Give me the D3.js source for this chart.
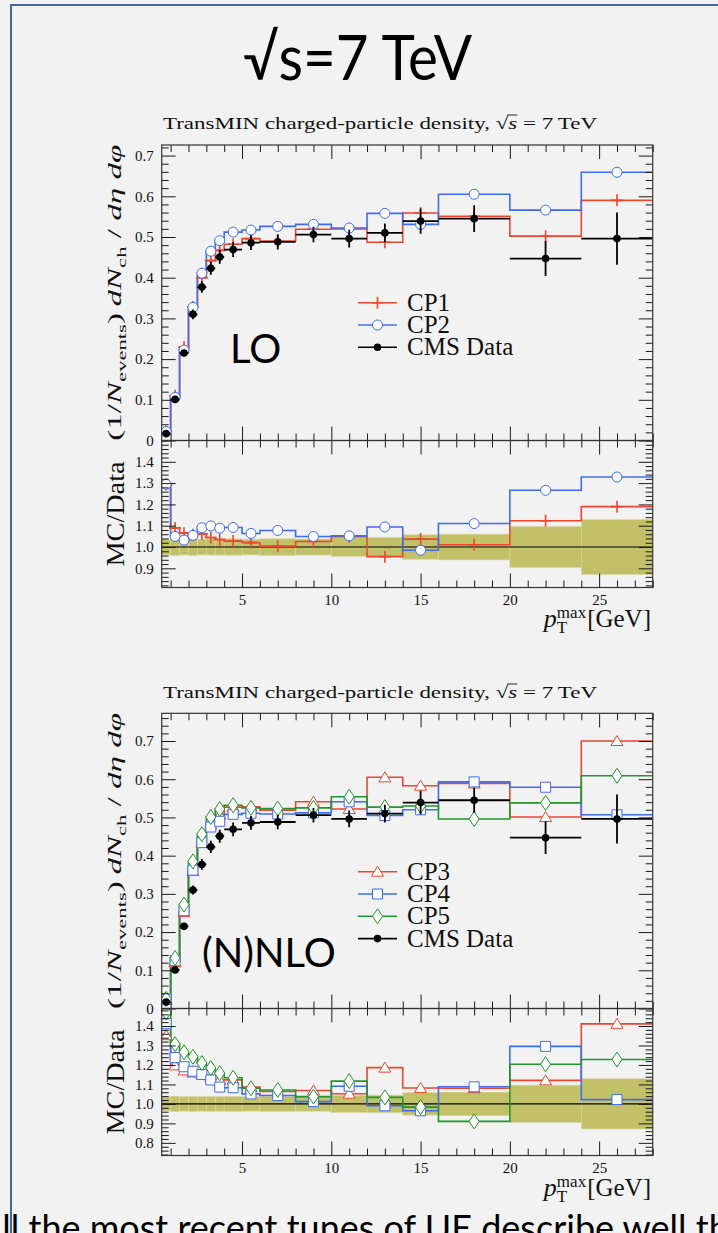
<!DOCTYPE html>
<html>
<head>
<meta charset="utf-8">
<script src="https://cdn.jsdelivr.net/npm/d3@7"></script>
<style>
body { margin:0; background:#f2f2f2; }
svg { display:block; }
.ax path.domain { display:none; }
.ax line { stroke:#1a1a1a; stroke-width:1; }
.ax text { font-family:"Liberation Serif", serif; font-size:15px; fill:#111; }
.ser { font-family:"Liberation Serif", serif; fill:#111; }
.cal { font-family:Lato, "Open Sans", sans-serif; fill:#000; }
</style>
</head>
<body>
<svg id="slide" width="718" height="1233"></svg>
<script>
// bins of leading-track pT (GeV)
var binEdges = [0.5,1,1.5,2,2.5,3,3.5,4,5,6,8,10,12,14,16,20,24,28];

// CMS data, TransMIN density
var cmsData = [0.017,0.101,0.215,0.310,0.377,0.423,0.451,0.469,0.486,0.488,0.506,0.496,0.510,0.539,0.545,0.447,0.496];
var cmsErr  = [0.0006,0.004,0.008,0.012,0.014,0.016,0.017,0.018,0.018,0.019,0.019,0.022,0.023,0.031,0.033,0.043,0.064];

// LO tunes
var cp1 = [0.022,0.110,0.229,0.328,0.400,0.442,0.467,0.482,0.496,0.490,0.519,0.520,0.487,0.559,0.551,0.502,0.590];
var cp2 = [0.022,0.106,0.222,0.327,0.411,0.465,0.491,0.512,0.517,0.526,0.531,0.522,0.558,0.531,0.605,0.566,0.659];
// (N)NLO tunes
var cp3 = [0.023,0.121,0.252,0.360,0.434,0.482,0.507,0.527,0.528,0.519,0.541,0.522,0.605,0.583,0.589,0.501,0.700];
var cp4 = [0.024,0.125,0.256,0.362,0.434,0.475,0.490,0.508,0.511,0.509,0.512,0.541,0.505,0.520,0.593,0.579,0.507];
var cp5 = [0.025,0.132,0.272,0.385,0.456,0.501,0.522,0.532,0.525,0.523,0.525,0.554,0.527,0.530,0.496,0.538,0.609];

var xMajorTicks = [5,10,15,20,25];
var mainYTicks = [0,0.1,0.2,0.3,0.4,0.5,0.6,0.7];
var ratioTicksLO = [0.9,1.0,1.1,1.2,1.3,1.4];
var ratioTicksNLO = [0.8,0.9,1.0,1.1,1.2,1.3,1.4];

var RED = "#ea4630", BLUE = "#3d6cf0", GREEN = "#22962a", BAND = "#c3c168";

var svg = d3.select("#slide");
svg.append("rect").attr("width",718).attr("height",1233).attr("fill","#f2f2f2");
svg.append("path").attr("d","M11,1233V5H718").attr("fill","none").attr("stroke","#4262a0").attr("stroke-width",2);

// slide title
svg.append("text").attr("class","cal").attr("x",243).attr("y",80)
   .attr("font-size",62).attr("textLength",229).attr("lengthAdjust","spacingAndGlyphs")
   .text("\u221As=7 TeV");

// slide text, cut by the bottom edge
svg.append("text").attr("class","cal").attr("x",-22).attr("y",1241)
   .attr("font-size",36).text("All the most recent tunes of UE describe well the data");

var X0 = 161.7, X1 = 652.7;
var x = d3.scaleLinear().domain([binEdges[0], binEdges[binEdges.length-1]]).range([X0, X1]);
var centres = d3.pairs(binEdges).map(function(p){ return (p[0]+p[1])/2; });

function stepPts(vals) {
  var pts = vals.map(function(v,i){ return [binEdges[i], v]; });
  pts.push([binEdges[binEdges.length-1], vals[vals.length-1]]);
  return pts;
}

function marker(sel, type, color) {
  if (type === "cross") {
    sel.append("path").attr("d","M-6,0H6M0,-6V6").attr("fill","none").attr("stroke",color).attr("stroke-width",1.6);
  } else if (type === "circle") {
    sel.append("circle").attr("r",5).attr("fill","#fff").attr("stroke",color).attr("stroke-width",1);
  } else if (type === "triangle") {
    sel.append("path").attr("d","M0,-5.5L6,4.5L-6,4.5Z").attr("fill","#fff").attr("stroke",color).attr("stroke-width",1);
  } else if (type === "square") {
    sel.append("path").attr("d","M-5,-5H5V5H-5Z").attr("fill","#fff").attr("stroke",color).attr("stroke-width",1);
  } else if (type === "diamond") {
    sel.append("path").attr("d","M0,-7.5L5,0L0,7.5L-5,0Z").attr("fill","#fff").attr("stroke",color).attr("stroke-width",1);
  } else if (type === "data") {
    sel.append("circle").attr("r",3.8).attr("fill","#000");
  }
}

function minorTicks(lo, hi, step, majors) {
  return d3.range(lo, hi + 1e-9, step).filter(function(v){
    return !majors.some(function(m){ return Math.abs(m - v) < 1e-6; });
  });
}

function frameAxes(g, yScale, top, bot, yMajors, yFmt, xLabels) {
  var yMin = minorTicks(Math.ceil(yScale.domain()[0]*50)/50, yScale.domain()[1], 0.02, yMajors);
  var xMin = minorTicks(1, 28, 1, xMajorTicks);
  function add(axis, tx, ty) {
    g.append("g").attr("class","ax").attr("transform","translate("+tx+","+ty+")").call(axis);
  }
  add(d3.axisBottom(x).tickValues(xMajorTicks).tickSize(-14).tickPadding(7)
        .tickFormat(xLabels ? d3.format("d") : ""), 0, bot);
  add(d3.axisBottom(x).tickValues(xMin).tickSize(-7).tickFormat(""), 0, bot);
  add(d3.axisTop(x).tickValues(xMajorTicks).tickSize(-14).tickFormat(""), 0, top);
  add(d3.axisTop(x).tickValues(xMin).tickSize(-7).tickFormat(""), 0, top);
  add(d3.axisLeft(yScale).tickValues(yMajors).tickSize(-14).tickPadding(8).tickFormat(yFmt), X0, 0);
  add(d3.axisLeft(yScale).tickValues(yMin).tickSize(-7).tickFormat(""), X0, 0);
  add(d3.axisRight(yScale).tickValues(yMajors).tickSize(-14).tickFormat(""), X1, 0);
  add(d3.axisRight(yScale).tickValues(yMin).tickSize(-7).tickFormat(""), X1, 0);
  g.append("rect").attr("x",X0).attr("y",top).attr("width",X1-X0).attr("height",bot-top)
   .attr("fill","none").attr("stroke","#333").attr("stroke-width",1.2);
}

function drawPlot(cfg) {
  var g = svg.append("g");
  var y = d3.scaleLinear().domain([0, cfg.yMax]).range([cfg.split, cfg.top]);
  var r = d3.scaleLinear().domain(cfg.rDom).range([cfg.bottom, cfg.split]);
  var defs = g.append("defs");
  defs.append("clipPath").attr("id",cfg.id+"m").append("rect")
      .attr("x",X0).attr("y",cfg.top).attr("width",X1-X0).attr("height",cfg.split-cfg.top);
  defs.append("clipPath").attr("id",cfg.id+"r").append("rect")
      .attr("x",X0).attr("y",cfg.split).attr("width",X1-X0).attr("height",cfg.bottom-cfg.split);

  // plot title with sqrt(s)
  var tt = g.append("text").attr("class","ser").attr("x",163).attr("y",cfg.titleY)
     .attr("font-size",17).attr("textLength",434).attr("lengthAdjust","spacingAndGlyphs");
  tt.append("tspan").text("TransMIN charged-particle density, \u221A");
  tt.append("tspan").attr("font-style","italic").text("s");
  tt.append("tspan").text(" = 7\u2009TeV");
  var idx = "TransMIN charged-particle density, \u221A".length;
  var n = tt.node();
  var sx0 = n.getEndPositionOfChar(idx-1).x - 1, sx1 = n.getEndPositionOfChar(idx).x;
  g.append("line").attr("x1",sx0).attr("x2",sx1).attr("y1",cfg.titleY-14).attr("y2",cfg.titleY-14)
   .attr("stroke","#111").attr("stroke-width",0.9);

  var line = function(sc){ return d3.line().x(function(d){ return x(d[0]); }).y(function(d){ return sc(d[1]); }).curve(d3.curveStepAfter); };

  // main panel
  var gm = g.append("g").attr("clip-path","url(#"+cfg.id+"m)");
  cfg.series.forEach(function(s){
    gm.append("path").datum(stepPts(s.vals)).attr("d",line(y))
      .attr("fill","none").attr("stroke",s.color).attr("stroke-width",1.6);
  });
  cfg.series.forEach(function(s){
    s.vals.forEach(function(v,i){
      marker(gm.append("g").attr("transform","translate("+x(centres[i])+","+y(v)+")"), s.marker, s.color);
    });
  });
  cmsData.forEach(function(v,i){
    gm.append("line").attr("x1",x(binEdges[i])).attr("x2",x(binEdges[i+1])).attr("y1",y(v)).attr("y2",y(v))
      .attr("stroke","#000").attr("stroke-width",1.8);
    gm.append("line").attr("x1",x(centres[i])).attr("x2",x(centres[i])).attr("y1",y(v-cmsErr[i])).attr("y2",y(v+cmsErr[i]))
      .attr("stroke","#000").attr("stroke-width",1.8);
    marker(gm.append("g").attr("transform","translate("+x(centres[i])+","+y(v)+")"), "data");
  });

  // ratio panel
  var gr = g.append("g").attr("clip-path","url(#"+cfg.id+"r)");
  cmsData.forEach(function(v,i){
    var rel = cmsErr[i]/v;
    gr.append("rect").attr("x",x(binEdges[i])).attr("width",x(binEdges[i+1])-x(binEdges[i]))
      .attr("y",r(1+rel)).attr("height",r(1-rel)-r(1+rel))
      .attr("fill",BAND).attr("stroke","#d9d7a6").attr("stroke-width",0.6);
  });
  gr.append("line").attr("x1",X0).attr("x2",X1).attr("y1",r(1)).attr("y2",r(1)).attr("stroke","#000").attr("stroke-width",1.2);
  cfg.series.forEach(function(s){
    var rat = s.vals.map(function(v,i){ return v/cmsData[i]; });
    gr.append("path").datum(stepPts(rat)).attr("d",line(r))
      .attr("fill","none").attr("stroke",s.color).attr("stroke-width",1.6);
  });
  cfg.series.forEach(function(s){
    s.vals.forEach(function(v,i){
      marker(gr.append("g").attr("transform","translate("+x(centres[i])+","+r(v/cmsData[i])+")"), s.marker, s.color);
    });
  });

  frameAxes(g, y, cfg.top, cfg.split, mainYTicks, function(d){ return d === 0 ? "0" : d3.format(".1f")(d); }, false);
  frameAxes(g, r, cfg.split, cfg.bottom, cfg.rTicks, d3.format(".1f"), true);

  // y labels
  var yl = g.append("text").attr("class","ser").attr("font-size",19).attr("text-anchor","middle")
     .attr("transform","translate(121,"+((cfg.top+cfg.split)/2)+") rotate(-90)")
     .attr("textLength",296).attr("lengthAdjust","spacingAndGlyphs");
  yl.append("tspan").text("(1/");
  yl.append("tspan").attr("font-style","italic").text("N");
  yl.append("tspan").attr("font-size",13).attr("dy",5).text("events");
  yl.append("tspan").attr("dy",-5).text(")\u2009");
  yl.append("tspan").attr("font-style","italic").text("dN");
  yl.append("tspan").attr("font-size",13).attr("dy",5).text("ch");
  yl.append("tspan").attr("dy",-5).text(" /");
  yl.append("tspan").attr("font-style","italic").text(" d\u03B7 d\u03C6");

  g.append("text").attr("class","ser").attr("font-size",26).attr("text-anchor","middle")
   .attr("transform","translate(124,"+((cfg.split+cfg.bottom)/2)+") rotate(-90)")
   .attr("textLength",105).attr("lengthAdjust","spacingAndGlyphs").text("MC/Data");

  // x label p_T^max [GeV]
  var xl = g.append("g");
  var p = xl.append("text").attr("class","ser").attr("font-size",26).attr("font-style","italic").attr("y",cfg.xLabelY).text("p");
  var wp = p.node().getComputedTextLength();
  var tT = xl.append("text").attr("class","ser").attr("font-size",17).attr("x",wp).attr("y",cfg.xLabelY+6).text("T");
  var tM = xl.append("text").attr("class","ser").attr("font-size",17).attr("x",wp).attr("y",cfg.xLabelY-9).text("max");
  var ws = Math.max(tT.node().getComputedTextLength(), tM.node().getComputedTextLength());
  var gv = xl.append("text").attr("class","ser").attr("font-size",25).attr("x",wp+ws+1).attr("y",cfg.xLabelY).text("[GeV]");
  var wTot = wp + ws + 1 + gv.node().getComputedTextLength();
  xl.attr("transform","translate("+(651-wTot)+",0)");

  // legend
  cfg.series.concat([{name:"CMS Data", color:"#000", marker:"data"}]).forEach(function(s,i){
    var ly = cfg.legY + i*22.3;
    g.append("line").attr("x1",358).attr("x2",397).attr("y1",ly).attr("y2",ly)
     .attr("stroke",s.color).attr("stroke-width",1.6);
    marker(g.append("g").attr("transform","translate(377.5,"+ly+")"), s.marker, s.color);
    g.append("text").attr("class","ser").attr("font-size",25).attr("x",407).attr("y",ly+8).text(s.name);
  });

  g.append("text").attr("class","cal").attr("font-size",40).attr("x",cfg.tagX).attr("y",cfg.tagY).text(cfg.tag);
}

drawPlot({
  id:"lo", top:145, split:440.5, bottom:587.5, yMax:0.726, rDom:[0.81,1.5], rTicks:ratioTicksLO,
  titleY:129, xLabelY:627, legY:302.7, tag:"LO", tagX:230, tagY:363,
  series:[{name:"CP1", vals:cp1, color:RED, marker:"cross"},
          {name:"CP2", vals:cp2, color:BLUE, marker:"circle"}]
});
drawPlot({
  id:"nlo", top:713.3, split:1008.5, bottom:1155.5, yMax:0.7725, rDom:[0.735,1.49], rTicks:ratioTicksNLO,
  titleY:698, xLabelY:1196, legY:871.7, tag:"(N)NLO", tagX:202, tagY:967,
  series:[{name:"CP3", vals:cp3, color:RED, marker:"triangle"},
          {name:"CP4", vals:cp4, color:BLUE, marker:"square"},
          {name:"CP5", vals:cp5, color:GREEN, marker:"diamond"}]
});
</script>
</body>
</html>
